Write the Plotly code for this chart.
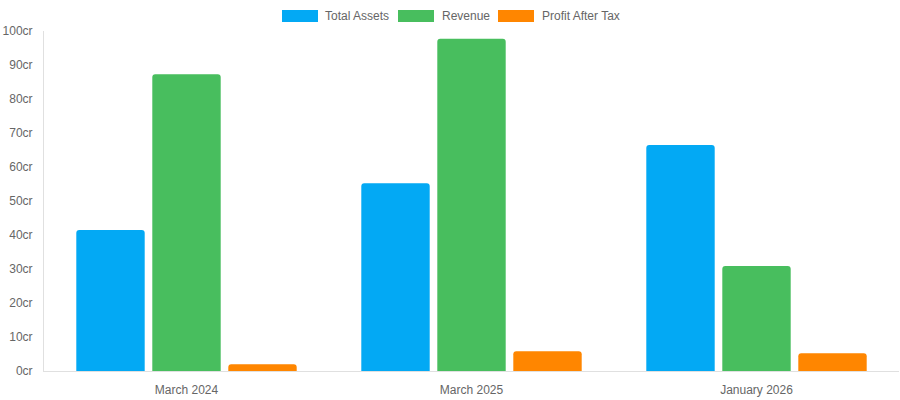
import plotly.graph_objs as go

# data
periods = ['March 2024', 'March 2025', 'January 2026']
total_assets = [41.5, 55.2, 66.5]
revenue = [87.3, 97.7, 30.9]
profit_after_tax = [2.0, 5.8, 5.2]

series_names = ['Total Assets', 'Revenue', 'Profit After Tax']
colors = ['#03A9F4', '#48BE5E', '#FF8600']

data = []
for name, ys, col in zip(series_names, [total_assets, revenue, profit_after_tax], colors):
    data.append(go.Bar(x=periods, y=ys, name=name,
                       marker=dict(color=col, line=dict(width=0), cornerradius=3),
                       showlegend=False))

font = dict(family='Liberation Sans, Arial, sans-serif', size=12, color='#666666')

# chart.js style legend: wide swatches + labels across the top
legend_items = [(282, 318, 323), (398, 434, 440), (498, 534, 540)]
shapes = []
annotations = []
for (x0, x1, xt), name, col in zip(legend_items, series_names, colors):
    shapes.append(dict(type='rect', xref='paper', yref='paper',
                       x0=(x0 - 44) / 855, x1=(x1 - 44) / 855,
                       y0=(371 - 22) / 340, y1=(371 - 10) / 340,
                       fillcolor=col, line=dict(width=0)))
    annotations.append(dict(text=name, xref='paper', yref='paper',
                            x=(xt - 44) / 855, y=(371 - 16) / 340,
                            xanchor='left', yanchor='middle', showarrow=False,
                            font=font))

layout = go.Layout(
    width=900, height=400,
    margin=dict(l=44, r=1, t=31, b=29),
    paper_bgcolor='white', plot_bgcolor='white',
    font=font,
    barmode='group', bargap=0.2, bargroupgap=0.1,
    xaxis=dict(showgrid=False, showline=True, linecolor='#e0e0e0', linewidth=1,
               ticks='', tickfont=font, ticklabelstandoff=8),
    yaxis=dict(range=[0, 100], dtick=10, ticksuffix='cr', showgrid=False,
               zeroline=False, showline=True, linecolor='#e0e0e0', linewidth=1,
               ticks='', tickfont=font, ticklabelstandoff=8),
    shapes=shapes,
    annotations=annotations,
    hovermode='closest',
)

fig = go.Figure(data=data, layout=layout)
# drop the default page margin so the 900x400 figure sits at the window origin
fig.write_html('out.html', config={'displayModeBar': False},
               post_script="document.body.style.margin='0';document.body.style.overflow='hidden';")
